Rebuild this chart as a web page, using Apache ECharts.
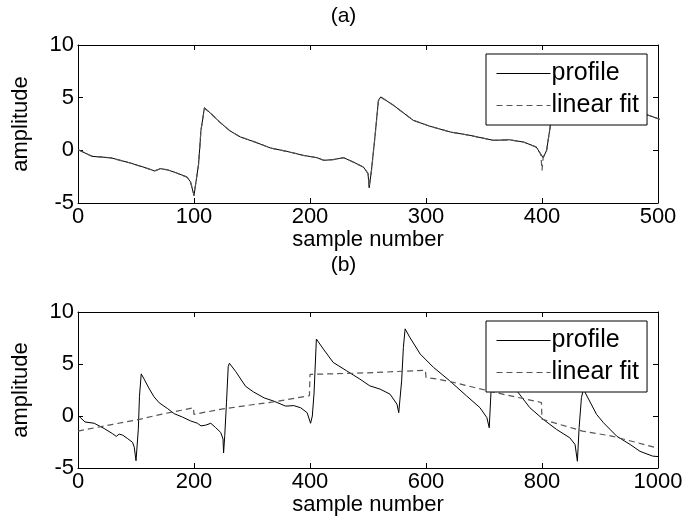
<!DOCTYPE html>
<html>
<head>
<meta charset="utf-8">
<script src="https://cdn.jsdelivr.net/npm/echarts@6/dist/echarts.min.js"></script>
<style>
  html, body { margin: 0; padding: 0; background: #fff; }
  #chart { width: 687px; height: 531px; }
</style>
</head>
<body>
<div id="chart"></div>
<script>
// profile samples [sample number, amplitude]
var profile = [
  [0, 0.07], [12, -0.57], [28, -0.7], [45, -1.2], [59, -1.68], [66, -1.96], [71, -1.74],
  [77, -1.84], [85, -2.15], [94, -2.53], [97, -3.0], [100, -4.3], [104, -1.27], [106, 1.9],
  [109, 4.05], [114, 3.55], [122, 2.7], [131, 1.85], [140, 1.27], [154, 0.73], [166, 0.22],
  [180, -0.1], [194, -0.47], [206, -0.7], [212, -0.95], [220, -0.88], [229, -0.7], [237, -1.1],
  [246, -1.58], [250, -2.2], [251, -3.55], [253, -1.9], [256, 1.27], [259, 4.75], [261, 5.07],
  [272, 4.27], [289, 2.85], [303, 2.3], [321, 1.74], [338, 1.42], [358, 0.95], [372, 1.0],
  [384, 0.79], [395, 0.32], [401, -0.7], [404, 0], [407, 2.2], [411, 7.4], [423, 6.44],
  [440, 5.15], [463, 4.35], [486, 3.55], [503, 2.9], [521, 2.58], [538, 2.1], [550, 1.13],
  [553, 0.32], [558, 3.38], [561, 6.6], [564, 8.38], [572, 7.57], [590, 5.96], [613, 4.67],
  [641, 3.38], [670, 1.93], [693, 0.8], [705, -0.16], [709, -1.13], [712, 2.25], [714, 6.0],
  [730, 4.5], [745, 3.2], [759, 2.25], [779, 0.8], [802, -0.32], [825, -1.29], [848, -2.1],
  [857, -2.74], [861, -4.35], [864, -1.13], [868, 1.77], [872, 2.7], [874, 2.3], [894, 0.16],
  [906, -0.65], [929, -1.95], [952, -2.74], [969, -3.4], [991, -3.86], [1000, -3.9]
];

// fine linear fit used in panel (a): hugs the profile, breaks at sample 400
var fitA = [
  [0, 0.05], [12, -0.55], [28, -0.72], [45, -1.2], [59, -1.7], [66, -1.95], [71, -1.75],
  [77, -1.85], [85, -2.15], [94, -2.55], [97, -3.0], [100, -4.25], [104, -1.3], [106, 1.9],
  [109, 4.0], [114, 3.55], [122, 2.7], [131, 1.85], [140, 1.27], [154, 0.73], [166, 0.22],
  [180, -0.1], [194, -0.47], [206, -0.7], [212, -0.95], [220, -0.88], [229, -0.7], [237, -1.1],
  [246, -1.6], [250, -2.2], [251, -3.5], [253, -1.9], [256, 1.27], [259, 4.7], [261, 5.05],
  [272, 4.27], [289, 2.85], [303, 2.3], [321, 1.74], [338, 1.42], [358, 0.95], [372, 1.0],
  [384, 0.79], [395, 0.3], [399, -0.4], [400, -1.9], [401, -0.7], [404, 0], [407, 2.2],
  [411, 7.35], [423, 6.44], [440, 5.15], [463, 4.35], [486, 3.55], [503, 2.9]
];

// 200-sample piecewise linear fit used in panel (b)
var fitB = [
  [0, -1.45], [60, -0.8], [106, -0.32], [143, 0.16], [178, 0.55], [199, 0.8],
  [200, 0.15], [215, 0.32], [250, 0.68], [300, 1.08], [340, 1.38], [399, 1.95],
  [400, 4.0], [500, 4.15], [599, 4.4],
  [600, 3.7], [620, 3.55], [650, 3.2], [690, 2.65], [740, 2.0], [799, 1.3],
  [800, -0.3], [820, -0.64], [870, -1.45], [920, -1.93], [960, -2.5], [1000, -3.1]
];

var xTicksA = { min: 0, max: 500, interval: 100 };
var xTicksB = { min: 0, max: 1000, interval: 200 };
var yTicks = { min: -5, max: 10, interval: 5 };
var panelTitles = ["(a)", "(b)"];
var legendNames = ["profile", "linear fit"];

var chart = echarts.init(document.getElementById("chart"));

var FONT = "Liberation Sans";
var axisLine = { show: true, onZero: false, lineStyle: { color: "#000", width: 1 } };
var tick = { inside: true, length: 5, lineStyle: { color: "#000" } };

// bottom/left axes with labels
function labelXAxis(grid, t) {
  return {
    type: "value", gridIndex: grid, position: "bottom",
    min: t.min, max: t.max, interval: t.interval,
    name: "sample number", nameLocation: "middle", nameGap: 25,
    nameTextStyle: { color: "#000", fontFamily: FONT, fontSize: 22 },
    axisLine: axisLine, axisTick: tick,
    axisLabel: {
      color: "#000", fontFamily: FONT, fontSize: 22, margin: 3,
      formatter: function (v) { return String(v); }
    },
    splitLine: { show: false }
  };
}
// top/right axes: ticks only
function tickXAxis(grid, t) {
  return {
    type: "value", gridIndex: grid, position: "top",
    min: t.min, max: t.max, interval: t.interval,
    axisLine: axisLine, axisTick: tick,
    axisLabel: { show: false }, splitLine: { show: false }
  };
}
function labelYAxis(grid) {
  return {
    type: "value", gridIndex: grid, position: "left",
    min: yTicks.min, max: yTicks.max, interval: yTicks.interval,
    name: "amplitude", nameLocation: "middle", nameGap: 46, nameRotate: 90,
    nameTextStyle: { color: "#000", fontFamily: FONT, fontSize: 22 },
    axisLine: axisLine, axisTick: tick,
    axisLabel: { color: "#000", fontFamily: FONT, fontSize: 22, margin: 4 },
    splitLine: { show: false }
  };
}
function tickYAxis(grid) {
  return {
    type: "value", gridIndex: grid, position: "right",
    min: yTicks.min, max: yTicks.max, interval: yTicks.interval,
    axisLine: axisLine, axisTick: tick,
    axisLabel: { show: false }, splitLine: { show: false }
  };
}

function legendAt(top) {
  return {
    orient: "vertical", left: 486, top: top,
    data: legendNames.map(function (n) { return { name: n }; }),
    backgroundColor: "#fff", borderColor: "#000", borderWidth: 1,
    padding: [7, 8, 7, 10],
    itemWidth: 54, itemHeight: 12, itemGap: 7,
    itemStyle: { color: "transparent", borderWidth: 0 },
    lineStyle: { width: 1 },
    textStyle: { color: "#000", fontFamily: FONT, fontSize: 25, padding: [0, 0, 0, -4] },
    selectedMode: false, z: 10
  };
}

var profileStyle = { color: "#000", width: 1 };
var fitStyle = { color: "#555", width: 1.2, type: [6, 4] };
var titleStyle = { fontFamily: FONT, fontSize: 21, fontWeight: "normal", color: "#000" };

var option = {
  animation: false,
  title: [
    { text: panelTitles[0], left: "center", top: 1, textStyle: titleStyle },
    { text: panelTitles[1], left: "center", top: 250, textStyle: titleStyle }
  ],
  grid: [
    { left: 78, top: 45, width: 580, height: 158 },
    { left: 78, top: 312, width: 580, height: 156 }
  ],
  xAxis: [labelXAxis(0, xTicksA), tickXAxis(0, xTicksA), labelXAxis(1, xTicksB), tickXAxis(1, xTicksB)],
  yAxis: [labelYAxis(0), tickYAxis(0), labelYAxis(1), tickYAxis(1)],
  legend: [legendAt(54), legendAt(321)],
  series: [
    { name: legendNames[0], type: "line", xAxisIndex: 0, yAxisIndex: 0, data: profile, symbol: "none", lineStyle: profileStyle, itemStyle: { color: "#000" } },
    { name: legendNames[1], type: "line", xAxisIndex: 0, yAxisIndex: 0, data: fitA, symbol: "none", lineStyle: fitStyle, itemStyle: { color: "#555" } },
    { name: legendNames[0], type: "line", xAxisIndex: 2, yAxisIndex: 2, data: profile, symbol: "none", lineStyle: profileStyle, itemStyle: { color: "#000" } },
    { name: legendNames[1], type: "line", xAxisIndex: 2, yAxisIndex: 2, data: fitB, symbol: "none", lineStyle: fitStyle, itemStyle: { color: "#555" } }
  ]
};

chart.setOption(option);
</script>
</body>
</html>
